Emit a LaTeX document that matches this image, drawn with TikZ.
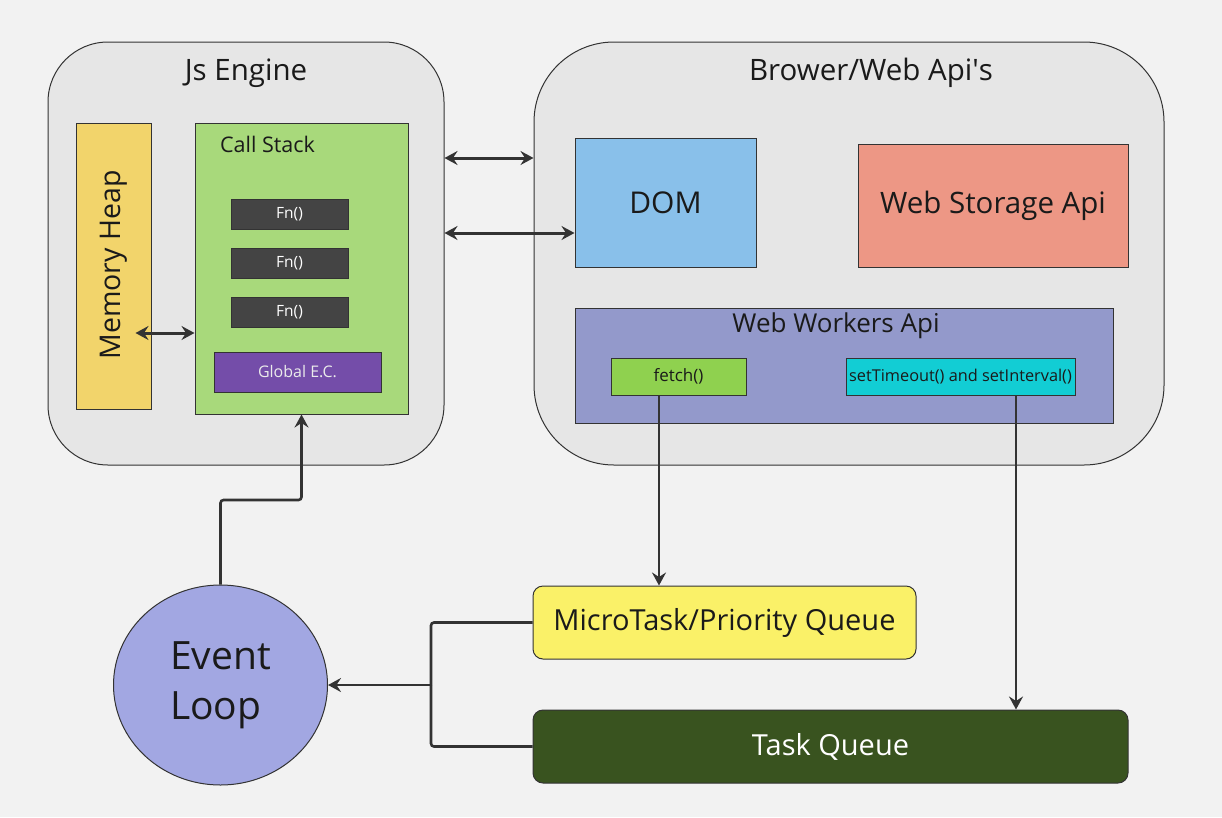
\documentclass[tikz,border=0pt]{standalone}
\usepackage{fontspec}
\setmainfont{Open Sans}
\usetikzlibrary{arrows.meta,shapes.geometric}
\definecolor{bgc}{HTML}{F2F2F2}
\definecolor{panel}{HTML}{E6E6E6}
\definecolor{edge}{HTML}{333333}
\definecolor{txt}{HTML}{1A1A1A}
\definecolor{heapc}{HTML}{F2D46B}
\definecolor{csc}{HTML}{A8D97B}
\definecolor{fnc}{HTML}{444444}
\definecolor{gecc}{HTML}{744DA9}
\definecolor{domc}{HTML}{89C0EA}
\definecolor{wsac}{HTML}{ED9785}
\definecolor{wwac}{HTML}{9399CB}
\definecolor{fetchc}{HTML}{8FD14F}
\definecolor{stic}{HTML}{12CDD4}
\definecolor{mqc}{HTML}{FAF168}
\definecolor{tqc}{HTML}{39531F}
\definecolor{elc}{HTML}{A2A7E2}
\tikzset{
  fsz/.style={font=\fontsize{#1pt}{\dimexpr #1pt*6/5\relax}\selectfont},
  panelbox/.style={draw=edge,line width=1pt,fill=panel,inner sep=0pt},
  box/.style={draw=edge,line width=1pt,inner sep=0pt,text=txt},
  conn/.style={draw=edge,line width=2.6pt,rounded corners=3pt},
  tip/.style={-{Stealth[length=13pt,width=14pt,inset=4.5pt]}},
  dtip/.style={{Stealth[length=13pt,width=14pt,inset=4.5pt]}-{Stealth[length=13pt,width=14pt,inset=4.5pt]}},
  thick conn/.style={draw=edge,line width=3pt},
  thin conn/.style={draw=edge,line width=2.2pt},
  fnbox/.style={box,fill=fnc,minimum width=117pt,minimum height=30pt,fsz=15.5,text=white},
}
\begin{document}
\begin{tikzpicture}[x=1pt,y=-1pt]
\fill[bgc] (0,0) rectangle (1222,817);
\useasboundingbox (0,0) rectangle (1222,817);
% panels
\node[panelbox,rounded corners=60pt,minimum width=396pt,minimum height=423pt] (jse) at (246,253.5) {};
\node[panelbox,rounded corners=80pt,minimum width=630pt,minimum height=423pt] (bwa) at (849,253.5) {};
\node[fsz=29.5,text=txt] (jset) at (246,73) {Js Engine};
\node[fsz=29.5,text=txt] (bwat) at (871,73) {Brower/Web Api\textquotesingle s};
% js engine content
\node[box,fill=heapc,minimum width=75pt,minimum height=286pt] (heap) at (113.5,266) {};
\node[fsz=28.5,text=txt,rotate=90] (heapt) at (113.5,265) {Memory Heap};
\node[box,fill=csc,minimum width=213pt,minimum height=291pt] (cs) at (301.5,268.5) {};
\node[fsz=21.5,text=txt] (cst) at (267.5,144) {Call Stack};
\node[fnbox] (fn1) at (289.5,214) {Fn()};
\node[fnbox] (fn2) at (289.5,263) {Fn()};
\node[fnbox] (fn3) at (289.5,312) {Fn()};
\node[box,fill=gecc,minimum width=167pt,minimum height=40pt,fsz=16,text=white!92!black] (gec) at (297.5,372) {Global E.C.};
% browser content
\node[box,fill=domc,minimum width=181pt,minimum height=129pt,fsz=30] (dom) at (665.5,202.5) {DOM};
\node[box,fill=wsac,minimum width=270pt,minimum height=123pt,fsz=29.5] (wsa) at (993,205.5) {Web Storage Api};
\node[box,fill=wwac,minimum width=538pt,minimum height=115pt] (wwa) at (844,365.5) {};
\node[fsz=26,text=txt] (wwat) at (836,326) {Web Workers Api};
\node[box,fill=fetchc,minimum width=135pt,minimum height=37pt,fsz=17] (fetch) at (678.5,376.5) {fetch()};
\node[box,fill=stic,minimum width=229pt,minimum height=37pt,fsz=16.3] (sti) at (960.5,376.5) {setTimeout() and setInterval()};
% queues
\node[box,fill=mqc,rounded corners=10pt,minimum width=383pt,minimum height=73pt,fsz=29] (mq) at (724.5,622.5) {MicroTask/Priority Queue};
\node[box,fill=tqc,rounded corners=10pt,minimum width=595pt,minimum height=73pt,fsz=29,text=white] (tq) at (830.5,746.5) {Task Queue};
\node[box,ellipse,fill=elc,minimum width=214pt,minimum height=200pt,align=left,fsz=39] (el) at (220.5,685) {Event\\[3pt]Loop};
% connectors
\coordinate (ha) at ([xshift=-16pt,yshift=-67pt]heap.east);
\draw[thick conn,dtip] (ha) -- (ha -| cs.west);
\coordinate (b1) at (0,158);
\coordinate (b2) at (0,233);
\draw[thick conn,dtip] (b1 -| jse.east) -- (b1 -| bwa.west);
\draw[thick conn,dtip] (b2 -| jse.east) -- (b2 -| dom.west);
\coordinate (fx) at (659,0);
\coordinate (sx) at (1016,0);
\draw[thin conn,tip] (fx |- fetch.south) -- (fx |- mq.north);
\draw[thin conn,tip] (sx |- sti.south) -- (sx |- tq.north);
\coordinate (elbow) at (0,500);
\draw[conn,tip] (el.north) |- (elbow -| cs.south) -- (cs.south);
\coordinate (jn) at (431,685);
\draw[conn] (mq.west) -| (jn);
\draw[conn] (tq.west) -| (jn);
\draw[conn,tip] (jn) -- (jn -| el.east);
\end{tikzpicture}
\end{document}
